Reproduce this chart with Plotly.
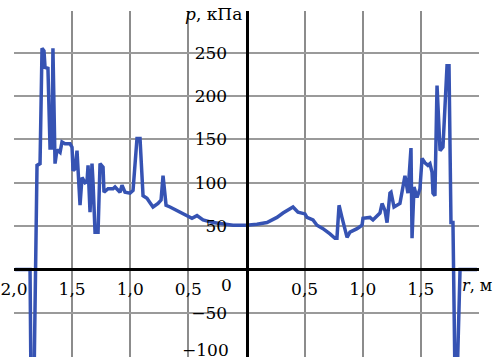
import plotly.graph_objects as go

# radius r, m (signed: left side negative)
r = [-1.99, -1.862, -1.854, -1.828, -1.802, -1.776, -1.759, -1.742, -1.733, -1.708,
     -1.690, -1.673, -1.665, -1.647, -1.630, -1.604, -1.587, -1.561, -1.518, -1.501,
     -1.492, -1.475, -1.458, -1.449, -1.432, -1.415, -1.389, -1.372, -1.363, -1.346,
     -1.329, -1.320, -1.303, -1.277, -1.260, -1.234, -1.226, -1.191, -1.148, -1.131,
     -1.088, -1.071, -1.045, -1.002, -0.976, -0.942, -0.916, -0.890, -0.856, -0.830,
     -0.804, -0.761, -0.735, -0.718, -0.692, -0.658, -0.598, -0.555, -0.512, -0.469,
     -0.426, -0.374, -0.288, -0.202, -0.116, 0.0, 0.090, 0.176, 0.262, 0.314,
     0.374, 0.400, 0.443, 0.503, 0.520, 0.572, 0.606, 0.658, 0.718, 0.761,
     0.778, 0.796, 0.821, 0.865, 0.890, 0.951, 0.994, 1.002, 1.062, 1.088,
     1.148, 1.166, 1.191, 1.209, 1.234, 1.243, 1.269, 1.320, 1.363, 1.389,
     1.415, 1.424, 1.441, 1.467, 1.492, 1.510, 1.535, 1.561, 1.578, 1.596,
     1.604, 1.621, 1.639, 1.665, 1.690, 1.725, 1.742, 1.759, 1.776, 1.794,
     1.811, 1.819, 1.837, 1.983]

# pressure p, kPa
p = [0, 0, -130, -130, 120, 122, 255, 252, 233, 232,
     140, 140, 255, 122, 138, 135, 147, 145, 145, 141,
     114, 116, 137, 112, 74, 106, 100, 101, 120, 66,
     122, 100, 43, 43, 122, 118, 89, 93, 93, 95,
     89, 97, 89, 88, 91, 151, 151, 85, 82, 77,
     72, 76, 80, 108, 74, 72, 68, 65, 62, 59,
     62, 57, 54, 52, 51, 51, 52, 54, 60, 65,
     70, 72, 66, 64, 60, 57, 51, 47, 41, 36,
     36, 74, 60, 37, 43, 47, 51, 59, 60, 57,
     65, 76, 68, 54, 88, 89, 72, 76, 108, 88,
     140, 36, 95, 83, 93, 128, 123, 120, 122, 112,
     88, 85, 212, 137, 141, 235, 235, 54, 54, -130,
     -130, -74, 0, 0]

x_tickvals = [-2, -1.5, -1, -0.5, 0.5, 1, 1.5, 2]
x_ticktext = ["2,0", "1,5", "1,0", "0,5", "0,5", "1,0", "1,5", ""]
y_tickvals = [-50, 50, 100, 150, 200, 250]
y_ticktext = ["\u221250", "50", "100", "150", "200", "250"]

XR = [-2, 2]
YR = [-101, 298]
serif = "DejaVu Serif"
FS = 17

fig = go.Figure()
fig.add_trace(go.Scatter(x=r, y=p, mode="lines",
                         line=dict(color="#3653b3", width=3.5),
                         hoverinfo="skip", showlegend=False))

fig.add_shape(type="line", xref="x", yref="y", x0=XR[0], x1=XR[1], y0=-50, y1=-50,
              line=dict(color="black", width=1.3), layer="below")

fig.update_layout(
    width=494, height=359,
    margin=dict(l=14, r=15, t=11, b=2, autoexpand=False),
    plot_bgcolor="white", paper_bgcolor="white",
    font=dict(family=serif, size=FS, color="black"),
    xaxis=dict(range=XR, tickvals=x_tickvals, ticktext=x_ticktext,
               showgrid=True, gridcolor="#8c8c8c", gridwidth=1.5,
               zeroline=False, showline=True, linecolor="black", linewidth=2.5,
               anchor="free", position=(0 - YR[0]) / (YR[1] - YR[0]),
               automargin=False, ticklabeloverflow="allow",
               ticks="", ticklabelstandoff=3,
               tickfont=dict(size=FS, family=serif)),
    yaxis=dict(range=YR, tickvals=y_tickvals, ticktext=y_ticktext,
               showgrid=True, gridcolor="#9a9a9a", gridwidth=1.5,
               zeroline=False, showline=True, linecolor="black", linewidth=3,
               anchor="free", position=0.5, automargin=False,
               ticklabeloverflow="allow",
               ticks="", ticklabelstandoff=15,
               tickfont=dict(size=FS, family=serif)),
    annotations=[
        dict(x=-0.168, y=-18, xref="x", yref="y", text="0", showarrow=False,
             font=dict(size=FS, family=serif)),
        dict(x=-0.133, y=-93, xref="x", yref="y", xanchor="right",
             text="\u2212100", showarrow=False, font=dict(size=FS, family=serif)),
        dict(x=-0.02, y=294, xref="x", yref="y", xanchor="right",
             text="<i>p</i>, кПа", showarrow=False, font=dict(size=FS, family=serif)),
        dict(x=1.84, y=-19, xref="x", yref="y", xanchor="left",
             text="<i>r</i>, м", showarrow=False, font=dict(size=16, family=serif)),
    ],
)

fig.write_html("out.html", config={"displayModeBar": False},
               post_script="document.body.style.margin='0';document.body.style.padding='0';")
